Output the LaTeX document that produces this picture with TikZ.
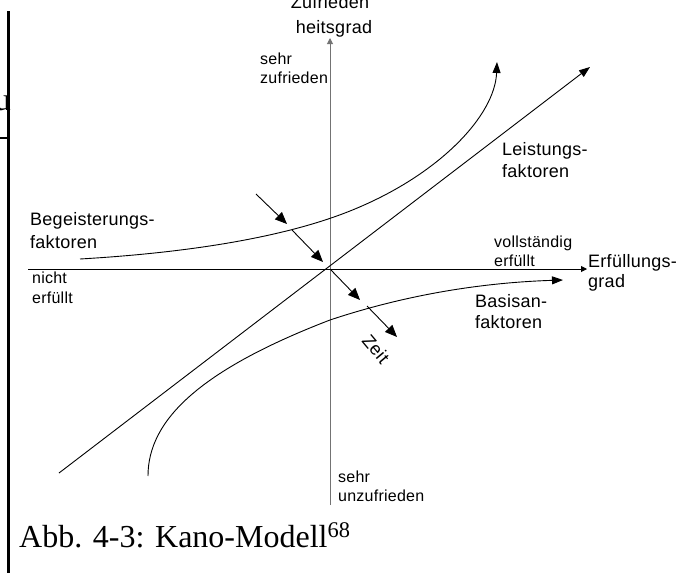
\documentclass[tikz,border=0pt]{standalone}
\usepackage{fontspec}
\setmainfont{Liberation Serif}
\newfontfamily\labfont[LetterSpace=1.5]{Liberation Sans}
\usetikzlibrary{arrows.meta}
\begin{document}
\begin{tikzpicture}[x=1pt,y=-1pt,
  small/.style={font=\labfont\fontsize{16}{19}\selectfont, inner sep=0pt, anchor=base west},
  big/.style={font=\labfont\fontsize{18}{22}\selectfont, inner sep=0pt, anchor=base west},
  curve/.style={line width=0.9pt, line join=round},
  tip/.style={-{Triangle[length=11pt,width=8pt]}},
  timetip/.style={line width=0.9pt, -{Triangle[length=12pt,width=10pt]}},
  axistip/.style={-{Triangle[length=6pt,width=6pt]}}]
\useasboundingbox (0,0) rectangle (696,573);

% page frame fragments on the left
\node[inner sep=0pt, anchor=base east, font=\fontsize{32}{36}\selectfont] (frag) at (11,110) {u};
\coordinate (fa) at (8.5,11);
\coordinate (fb) at (8.5,573);
\coordinate (fc) at (0,138);
\draw[line width=2.4pt] (fa) -- (fb);
\draw[line width=1.4pt] (fc) -- (fa |- fc);

% axes
\coordinate (O) at (330,269);
\coordinate (xs) at (28,269);
\coordinate (xe) at (587,269);
\coordinate (ys) at (330,505);
\coordinate (ye) at (330,38);
\draw[line width=0.9pt, axistip] (xs) -- (xe);
\draw[line width=1pt, black!55, axistip] (ys) -- (ye);

% performance factors: straight line
\coordinate (ls) at (59,473);
\coordinate (le) at (590,67);
\draw[curve, tip] (ls) -- (le);

% excitement factors
\coordinate (bs) at (80,259);
\coordinate (bm) at (350,211);
\coordinate (be) at (497,62);
\draw[curve, tip] (bs) .. controls (200,252) and (290,235) .. (bm)
  .. controls (440,175) and (495,115) .. (be);

% basic factors
\coordinate (as) at (148,476);
\coordinate (am) at (330,320);
\coordinate (ae) at (563,280);
\draw[curve, tip] (as) .. controls (148,420) and (200,370) .. (am)
  .. controls (420,290) and (500,282) .. (ae);

% time arrows
\coordinate (t1s) at (256,194); \coordinate (t1e) at (287,224);
\coordinate (t2s) at (292,230); \coordinate (t2e) at (323,262);
\coordinate (t3e) at (360,300);
\coordinate (t4s) at (367,306); \coordinate (t4e) at (397,337);
\draw[timetip] (t1s) -- (t1e);
\draw[timetip] (t2s) -- (t2e);
\draw[timetip] (O) -- (t3e);
\draw[timetip] (t4s) -- (t4e);
\node[font=\labfont\fontsize{18}{22}\selectfont, inner sep=0pt, rotate=-50] (zeit) at (376,349) {Zeit};

% labels
\node[font=\labfont\fontsize{18}{22}\selectfont, inner sep=0pt, anchor=base] (zf1) at (330,8) {Zufrieden};
\node[font=\labfont\fontsize{18}{22}\selectfont, inner sep=0pt, anchor=base] (zf2) at (334,33) {heitsgrad};
\node[small] (sz1) at (260,64) {sehr};
\node[small] (sz2) at (260,83) {zufrieden};
\node[big] (lf1) at (502,155) {Leistungs-};
\node[big] (lf2) at (502,177) {faktoren};
\node[big] (bg1) at (30,225) {Begeisterungs-};
\node[big] (bg2) at (30,248) {faktoren};
\node[small] (ve1) at (494,247) {vollständig};
\node[small] (ve2) at (494,266) {erfüllt};
\node[big] (eg1) at (588,267) {Erfüllungs-};
\node[big] (eg2) at (588,287) {grad};
\node[small] (ne1) at (32,283) {nicht};
\node[small] (ne2) at (32,303) {erfüllt};
\node[big] (ba1) at (475,307) {Basisan-};
\node[big] (ba2) at (475,328) {faktoren};
\node[small] (su1) at (338,482) {sehr};
\node[small] (su2) at (338,501) {unzufrieden};

% caption
\node[inner sep=0pt, anchor=base west, font=\fontsize{32}{36}\selectfont] (cap) at (19,547)
  {Abb. 4-3: Kano-Modell\textsuperscript{68}};
\end{tikzpicture}
\end{document}
